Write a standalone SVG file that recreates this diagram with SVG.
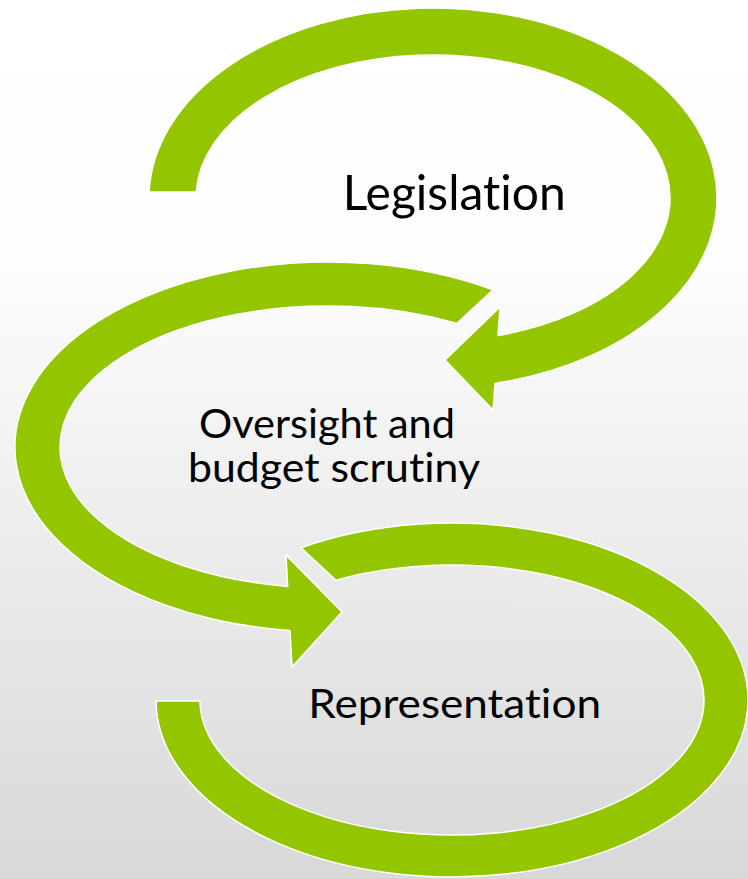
<svg xmlns="http://www.w3.org/2000/svg" width="748" height="879" viewBox="0 0 748 879">
  <defs>
    <linearGradient id="bg" x1="0" y1="0" x2="0" y2="1">
      <stop offset="0" stop-color="#FFFFFF"/>
      <stop offset="0.3" stop-color="#FDFDFD"/>
      <stop offset="1" stop-color="#D8D8D8"/>
    </linearGradient>
  </defs>
  <style>
    .arrow { fill: #93C600; stroke: #FFFFFF; stroke-width: 1.5; stroke-linejoin: miter; }
    .label { font-family: Lato, "Liberation Sans", sans-serif; fill: #000000; font-variant-ligatures: none; }
  </style>
  <rect x="0" y="0" width="748" height="879" fill="url(#bg)"/>

  <g id="node-legislation">
    <path class="arrow" d="M 149.1 192 A 284 190 0 1 1 495 383.4 L 493 410 L 445 360 L 500 307 L 498 335.5 A 237 143 0 1 0 196.2 192 Z"/>
    <text class="label" x="342.7" y="210" font-size="48.5" textLength="223" lengthAdjust="spacingAndGlyphs">Legislation</text>
  </g>

  <g id="node-oversight">
    <path class="arrow" d="M 493 289.8 A 313 185 0 1 0 290 630.6 L 292 667 L 342 612 L 286 555 L 287.7 586.4 A 268 141 0 1 1 457 323.4 Z"/>
    <text class="label" x="199" y="437.5" font-size="40" textLength="256" lengthAdjust="spacingAndGlyphs">Oversight and</text>
    <text class="label" x="188" y="481.5" font-size="40" textLength="292" lengthAdjust="spacingAndGlyphs">budget scrutiny</text>
  </g>

  <g id="node-representation">
    <path class="arrow" d="M 301 547.8 A 296 177 0 1 1 156 701 L 200 701 A 252 135 0 1 0 336 580.2 Z"/>
    <text class="label" x="308.3" y="717.7" font-size="40.5" textLength="292.7" lengthAdjust="spacingAndGlyphs">Representation</text>
  </g>

  <g id="connectors"></g>
</svg>
